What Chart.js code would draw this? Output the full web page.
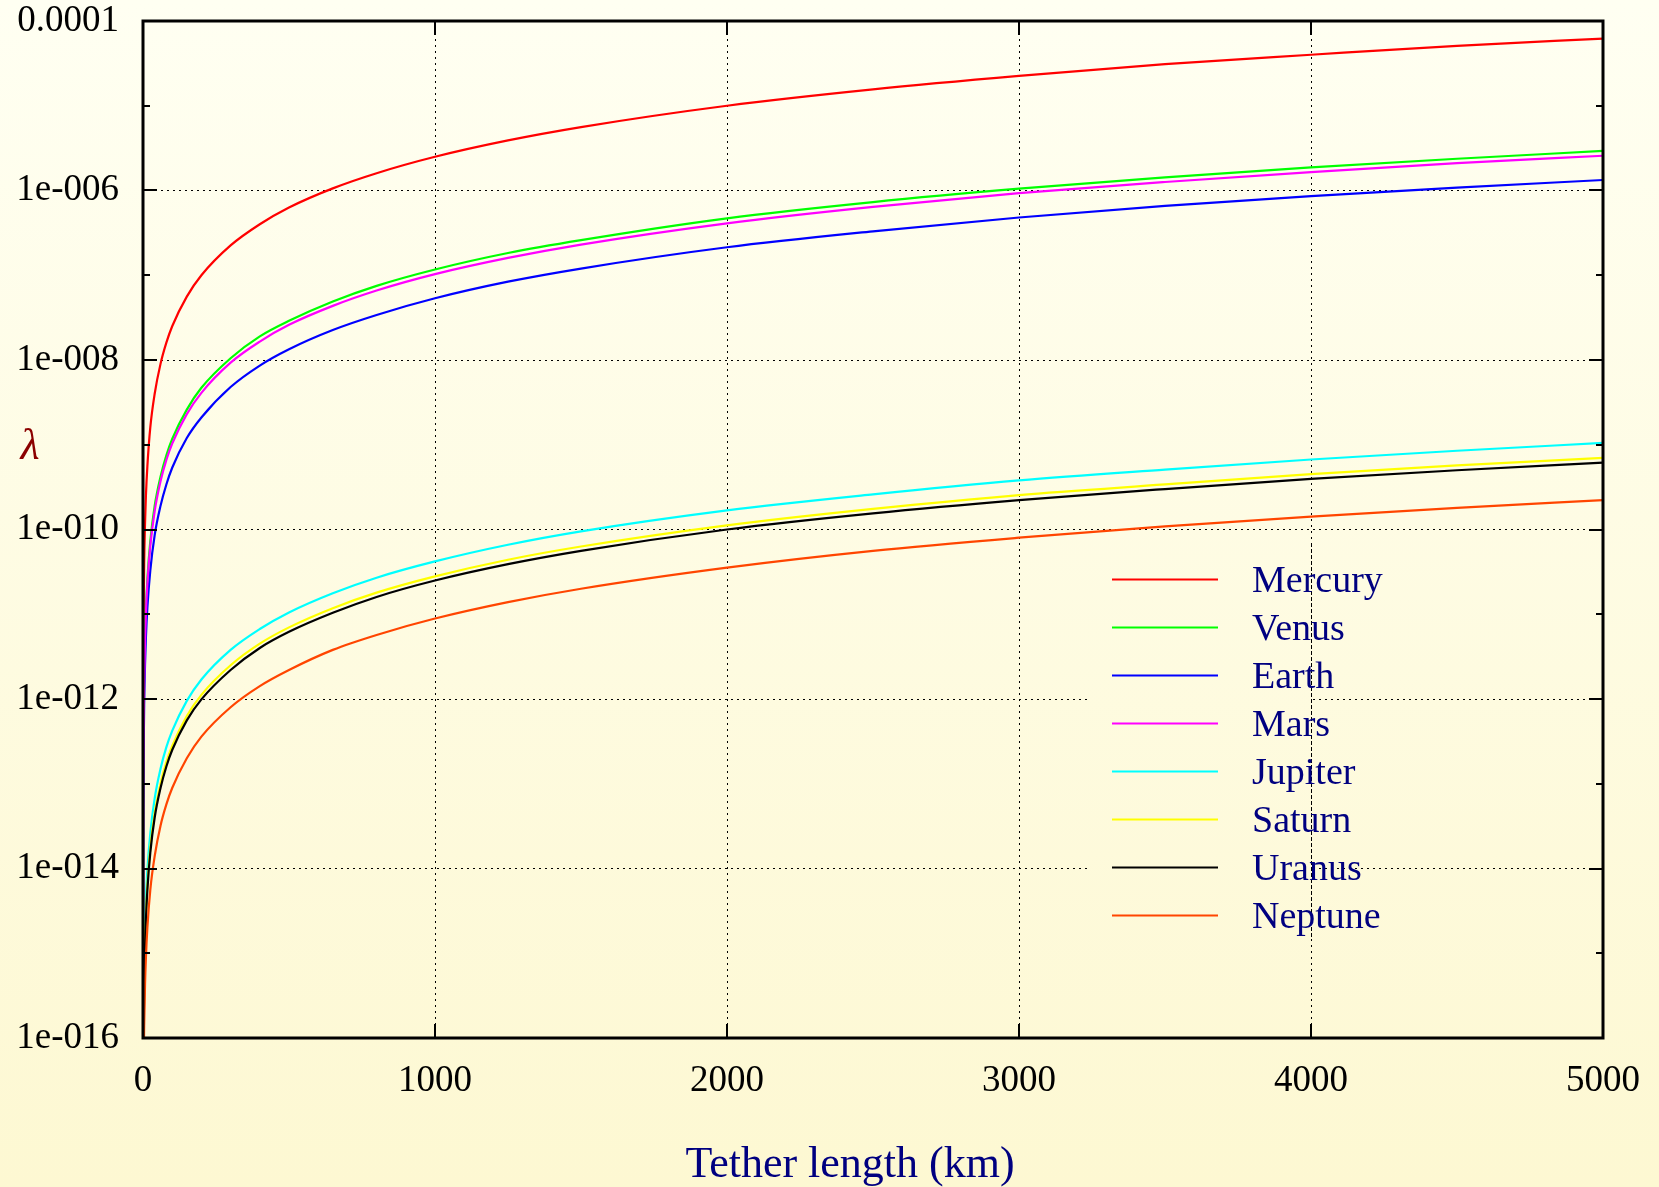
<!DOCTYPE html>
<html>
<head>
<meta charset="utf-8">
<title>Tether length vs lambda</title>
<script src="https://cdn.jsdelivr.net/npm/chart.js@4.4.1/dist/chart.umd.min.js"></script>
<style>
  html, body { margin: 0; padding: 0; background: #fdf8d2; }
  #wrap { position: relative; width: 1659px; height: 1187px; }
</style>
</head>
<body>
<div id="wrap"><canvas id="lambda-chart"></canvas></div>
<script>
// tether length samples (km)
const tetherKm = [0.01, 0.1, 1, 2, 4, 7, 10, 15, 25, 40, 60, 80, 100, 150, 200, 300, 400, 500,
  650, 800, 1000, 1250, 1500, 2000, 2500, 3000, 3500, 4000, 4500, 5000];

// lambda for each planet at the lengths above
const mercury = [2.5e-16, 2.5e-14, 2.5e-12, 1.0e-11, 4.0e-11, 1.2e-10, 2.5e-10, 5.6e-10, 1.6e-9, 4.0e-9,
  9.0e-9, 1.6e-8, 2.5e-8, 5.6e-8, 1.0e-7, 2.25e-7, 4.0e-7, 6.3e-7, 1.06e-6, 1.6e-6,
  2.5e-6, 3.9e-6, 5.6e-6, 1.0e-5, 1.56e-5, 2.25e-5, 3.1e-5, 4.0e-5, 5.1e-5, 6.2e-5];
const venus = [1.2e-17, 1.2e-15, 1.17e-13, 4.7e-13, 1.9e-12, 5.7e-12, 1.17e-11, 2.6e-11, 7.3e-11, 1.9e-10,
  4.2e-10, 7.5e-10, 1.17e-9, 2.6e-9, 4.7e-9, 1.05e-8, 1.9e-8, 2.9e-8, 4.9e-8, 7.5e-8,
  1.17e-7, 1.83e-7, 2.6e-7, 4.7e-7, 7.3e-7, 1.05e-6, 1.43e-6, 1.87e-6, 2.37e-6, 2.93e-6];
const earth = [5.4e-18, 5.4e-16, 5.35e-14, 2.1e-13, 8.6e-13, 2.6e-12, 5.35e-12, 1.2e-11, 3.3e-11, 8.6e-11,
  1.9e-10, 3.4e-10, 5.35e-10, 1.2e-9, 2.1e-9, 4.8e-9, 8.6e-9, 1.34e-8, 2.26e-8, 3.4e-8,
  5.35e-8, 8.4e-8, 1.2e-7, 2.14e-7, 3.3e-7, 4.8e-7, 6.6e-7, 8.6e-7, 1.08e-6, 1.33e-6];
const mars = [1.0e-17, 1.0e-15, 1.03e-13, 4.1e-13, 1.65e-12, 5.0e-12, 1.03e-11, 2.3e-11, 6.4e-11, 1.65e-10,
  3.7e-10, 6.6e-10, 1.03e-9, 2.3e-9, 4.1e-9, 9.3e-9, 1.65e-8, 2.6e-8, 4.35e-8, 6.6e-8,
  1.03e-7, 1.6e-7, 2.3e-7, 4.1e-7, 6.4e-7, 9.3e-7, 1.26e-6, 1.65e-6, 2.1e-6, 2.57e-6];
const jupiter = [4.2e-21, 4.2e-19, 4.2e-17, 1.7e-16, 6.7e-16, 2.1e-15, 4.2e-15, 9.5e-15, 2.6e-14, 6.7e-14,
  1.5e-13, 2.7e-13, 4.2e-13, 9.5e-13, 1.7e-12, 3.8e-12, 6.7e-12, 1.05e-11, 1.77e-11, 2.7e-11,
  4.2e-11, 6.6e-11, 9.5e-11, 1.68e-10, 2.6e-10, 3.8e-10, 5.1e-10, 6.7e-10, 8.5e-10, 1.05e-9];
const saturn = [2.8e-21, 2.8e-19, 2.8e-17, 1.1e-16, 4.5e-16, 1.4e-15, 2.8e-15, 6.3e-15, 1.75e-14, 4.5e-14,
  1.0e-13, 1.8e-13, 2.8e-13, 6.3e-13, 1.12e-12, 2.5e-12, 4.5e-12, 7.0e-12, 1.18e-11, 1.8e-11,
  2.8e-11, 4.4e-11, 6.3e-11, 1.12e-10, 1.75e-10, 2.55e-10, 3.4e-10, 4.5e-10, 5.7e-10, 7.0e-10];
const uranus = [2.5e-21, 2.5e-19, 2.5e-17, 9.9e-17, 4.0e-16, 1.2e-15, 2.5e-15, 5.6e-15, 1.54e-14, 4.0e-14,
  8.9e-14, 1.6e-13, 2.5e-13, 5.6e-13, 9.9e-13, 2.2e-12, 4.0e-12, 6.2e-12, 1.04e-11, 1.6e-11,
  2.5e-11, 3.9e-11, 5.6e-11, 1.0e-10, 1.55e-10, 2.22e-10, 3.0e-10, 3.95e-10, 5.0e-10, 6.15e-10];
const neptune = [8.9e-22, 8.9e-20, 8.9e-18, 3.6e-17, 1.4e-16, 4.4e-16, 8.9e-16, 2.0e-15, 5.6e-15, 1.4e-14,
  3.2e-14, 5.7e-14, 8.9e-14, 2.0e-13, 3.6e-13, 8.0e-13, 1.42e-12, 2.2e-12, 3.8e-12, 5.7e-12,
  8.9e-12, 1.39e-11, 2.0e-11, 3.55e-11, 5.6e-11, 8.0e-11, 1.09e-10, 1.42e-10, 1.8e-10, 2.22e-10];

const planetNames = ['Mercury', 'Venus', 'Earth', 'Mars', 'Jupiter', 'Saturn', 'Uranus', 'Neptune'];
const planetValues = [mercury, venus, earth, mars, jupiter, saturn, uranus, neptune];
const planetColors = ['#ff0000', '#00ff00', '#0000ff', '#ff00ff', '#00ffff', '#ffff00', '#000000', '#ff4500'];

const xTickValues = [0, 1000, 2000, 3000, 4000, 5000];
const decadeValues = [1e-4, 1e-5, 1e-6, 1e-7, 1e-8, 1e-9, 1e-10, 1e-11, 1e-12, 1e-13, 1e-14, 1e-15, 1e-16];
const yLabelValues = [1e-4, 1e-6, 1e-8, 1e-10, 1e-12, 1e-14, 1e-16];
const yLabelText = ['0.0001', '1e-006', '1e-008', '1e-010', '1e-012', '1e-014', '1e-016'];

const serif = "'Liberation Serif', 'Times New Roman', serif";
const navy = '#000080';

function exponentOf(v) { return Math.round(Math.log10(v)); }
function yLabelFor(v) {
  const i = yLabelValues.findIndex((lv) => exponentOf(lv) === exponentOf(v));
  return i < 0 ? '' : yLabelText[i];
}

function paperFill(ctx, h) {
  const g = ctx.createLinearGradient(0, 0, 0, h);
  g.addColorStop(0, '#fffff2');
  g.addColorStop(1, '#fdf8d2');
  return g;
}

// cream background over the whole canvas
const paper = {
  id: 'paper',
  beforeDraw(chart) {
    const { ctx, width, height } = chart;
    ctx.save();
    ctx.fillStyle = paperFill(ctx, height);
    ctx.fillRect(0, 0, width, height);
    ctx.restore();
  }
};

// the key sits on an opaque patch; only the 4000 km grid line crosses it
const keyPatch = {
  id: 'keyPatch',
  beforeDatasetsDraw(chart) {
    const { ctx, height, scales: { x } } = chart;
    ctx.save();
    ctx.fillStyle = paperFill(ctx, height);
    ctx.fillRect(1088, 545, 222, 395);
    const px = Math.round(x.getPixelForValue(4000)) + 0.5;
    ctx.strokeStyle = '#000';
    ctx.lineWidth = 1;
    ctx.setLineDash([2, 4]);
    ctx.beginPath();
    ctx.moveTo(px, 545);
    ctx.lineTo(px, 940);
    ctx.stroke();
    ctx.restore();
  }
};

// box border plus inward ticks on all four sides
const frame = {
  id: 'frame',
  afterDatasetsDraw(chart) {
    const { ctx, chartArea: a, scales: { x, y } } = chart;
    ctx.save();
    ctx.strokeStyle = '#000';
    ctx.lineWidth = 2;
    ctx.beginPath();
    decadeValues.forEach((v) => {
      const py = Math.round(y.getPixelForValue(v));
      const len = exponentOf(v) % 2 === 0 ? 14 : 7;
      ctx.moveTo(a.left, py); ctx.lineTo(a.left + len, py);
      ctx.moveTo(a.right, py); ctx.lineTo(a.right - len, py);
    });
    xTickValues.forEach((v) => {
      const px = Math.round(x.getPixelForValue(v));
      ctx.moveTo(px, a.bottom); ctx.lineTo(px, a.bottom - 14);
      ctx.moveTo(px, a.top); ctx.lineTo(px, a.top + 14);
    });
    ctx.stroke();
    ctx.lineWidth = 3;
    ctx.strokeRect(a.left, a.top, a.right - a.left, a.bottom - a.top);
    ctx.restore();
  }
};

// key entries, axis titles, and the cut-off right edge
const annotate = {
  id: 'annotate',
  afterDraw(chart) {
    const { ctx, height } = chart;
    ctx.save();
    chart.data.datasets.forEach((ds, i) => {
      const rowY = 579 + i * 48;
      ctx.strokeStyle = ds.borderColor;
      ctx.lineWidth = 2;
      ctx.beginPath();
      ctx.moveTo(1112, rowY + 0.5);
      ctx.lineTo(1218, rowY + 0.5);
      ctx.stroke();
      ctx.fillStyle = navy;
      ctx.font = '38px ' + serif;
      ctx.textAlign = 'left';
      ctx.textBaseline = 'alphabetic';
      ctx.fillText(ds.label, 1252, rowY + 13);
    });

    ctx.fillStyle = navy;
    ctx.font = '44px ' + serif;
    ctx.textAlign = 'center';
    ctx.fillText('Tether length (km)', 850, 1177);

    ctx.fillStyle = '#8b0000';
    ctx.font = 'italic 44px ' + serif;
    ctx.fillText('\u03bb', 30, 459);

    ctx.fillStyle = paperFill(ctx, height);
    ctx.fillRect(1642, 1045, 17, 60);
    ctx.restore();
  }
};

const datasets = planetNames.map((name, i) => ({
  label: name,
  data: tetherKm.map((km, j) => ({ x: km, y: planetValues[i][j] })),
  borderColor: planetColors[i],
  borderWidth: 2.2,
  pointRadius: 0,
  fill: false,
  cubicInterpolationMode: 'monotone',
  order: planetNames.length - i
}));

new Chart(document.getElementById('lambda-chart'), {
  type: 'line',
  data: { datasets },
  plugins: [paper, keyPatch, frame, annotate],
  options: {
    responsive: true,
    maintainAspectRatio: false,
    devicePixelRatio: 1,
    animation: false,
    layout: { padding: { left: 0, top: 0, right: 56, bottom: 0 } },
    plugins: { legend: { display: false }, tooltip: { enabled: false } },
    scales: {
      x: {
        type: 'linear',
        min: 0,
        max: 5000,
        afterBuildTicks: (s) => { s.ticks = xTickValues.map((v) => ({ value: v })); },
        afterFit: (s) => { s.height = 149; s.paddingLeft = 0; s.paddingRight = 0; },
        ticks: {
          callback: (v) => String(v),
          font: { family: serif, size: 37, lineHeight: 1 },
          color: '#000',
          padding: 25,
          maxRotation: 0,
          autoSkip: false
        },
        grid: {
          drawTicks: false,
          lineWidth: 1,
          color: (c) => (c.tick && (c.tick.value === 0 || c.tick.value === 5000) ? 'rgba(0,0,0,0)' : '#000')
        },
        border: { display: false, dash: [2, 4] }
      },
      y: {
        type: 'logarithmic',
        min: 1e-16,
        max: 1e-4,
        afterBuildTicks: (s) => { s.ticks = decadeValues.map((v) => ({ value: v })); },
        afterFit: (s) => { s.width = 143; s.paddingTop = 21; s.paddingBottom = 0; },
        ticks: {
          callback: (v) => yLabelFor(v),
          font: { family: serif, size: 37, lineHeight: 1 },
          color: '#000',
          padding: 24,
          autoSkip: false
        },
        grid: {
          drawTicks: false,
          lineWidth: 1,
          color: (c) => {
            if (!c.tick) return 'rgba(0,0,0,0)';
            const e = exponentOf(c.tick.value);
            return (e % 2 === 0 && e !== -4 && e !== -16) ? '#000' : 'rgba(0,0,0,0)';
          }
        },
        border: { display: false, dash: [2, 4] }
      }
    }
  }
});
</script>
</body>
</html>
